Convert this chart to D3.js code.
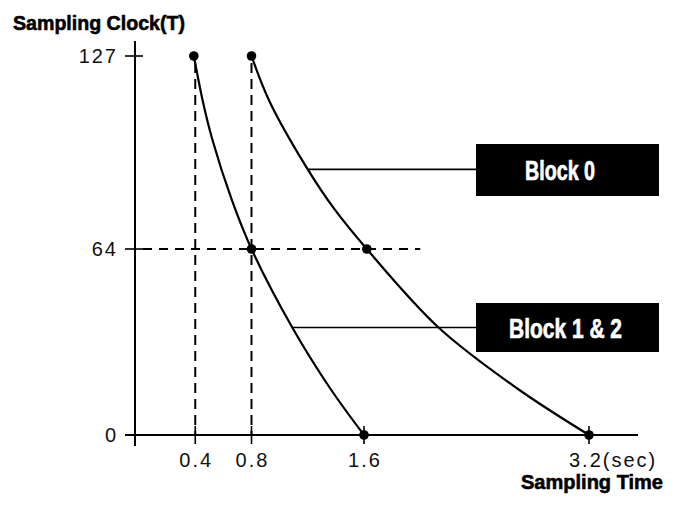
<!DOCTYPE html>
<html>
<head>
<meta charset="utf-8">
<script src="https://cdn.jsdelivr.net/npm/d3@7"></script>
<style>
  html, body { margin: 0; padding: 0; background: #fff; }
  svg { display: block; }
  .tick-label { font-family: "Liberation Sans", Arial, sans-serif; font-size: 20px; letter-spacing: 2px; fill: #111; }
  .bold-title { font-family: "Liberation Sans", Arial, sans-serif; font-weight: bold; font-size: 21px; fill: #000; stroke: #000; stroke-width: 0.6px; }
  .box-label { font-family: "Liberation Sans", Arial, sans-serif; font-weight: bold; font-size: 27px; fill: #fff; stroke: #fff; stroke-width: 0.7px; }
</style>
</head>
<body>
<script>
// ---- data ----
const xTickValues = [0.4, 0.8, 1.6, 3.2];
const xTickLabels = ["0.4", "0.8", "1.6", "3.2(sec)"];
const yTickValues = [0, 64, 127];
const yTickLabels = ["0", "64", "127"];

// Block 1 & 2 curve: sampling clock T vs sampling time (sec)
const block12T    = [127, 112, 100, 80, 64, 37, 16, 0];
const block12Time = [0.39, 0.455, 0.52, 0.66, 0.8, 1.09, 1.36, 1.6];
// Block 0 curve
const block0T     = [127, 112, 90, 77, 64, 37, 16, 0];
const block0Time  = [0.8, 0.93, 1.2, 1.39, 1.62, 2.13, 2.69, 3.2];

const markerTime = [0.39, 0.8, 0.8, 1.62, 1.6, 3.2];
const markerT    = [127, 127, 64, 64, 0, 0];

const dashVertTime = [0.4, 0.8];
const dashHorizT = 64;
const dashHorizEnd = 2.0;

const labels = ["Block 0", "Block 1 & 2"];
const labelAnchorIdx = [2, 5]; // index into each curve where the leader line starts

// ---- drawing ----
const W = 679, H = 505;
const svg = d3.select("body").append("svg").attr("width", W).attr("height", H);

const x = d3.scaleLinear().domain([0, 3.2]).range([139, 589]);
const y = d3.scaleLinear().domain([0, 64, 127]).range([435, 249, 56]);
const axisX = 135;

// dashed guides
const dashG = svg.append("g").attr("stroke", "#000").attr("stroke-width", 2).attr("fill", "none");
dashVertTime.forEach(t => {
  dashG.append("line")
    .attr("x1", x(t)).attr("x2", x(t))
    .attr("y1", y(127) + 7).attr("y2", y(0))
    .attr("stroke-dasharray", "10,6");
});
dashG.append("line")
  .attr("x1", axisX + 8).attr("x2", x(dashHorizEnd))
  .attr("y1", y(dashHorizT)).attr("y2", y(dashHorizT))
  .attr("stroke-dasharray", "9,7");

// axes
const axG = svg.append("g").attr("stroke", "#000").attr("stroke-width", 2);
axG.append("line").attr("x1", axisX).attr("x2", axisX).attr("y1", 41).attr("y2", 446);
axG.append("line").attr("x1", axisX - 10).attr("x2", 638).attr("y1", y(0)).attr("y2", y(0));

// y ticks
yTickValues.forEach((v, i) => {
  svg.append("line").attr("stroke", "#000").attr("stroke-width", 1.6)
    .attr("x1", axisX - 10).attr("x2", axisX + 8)
    .attr("y1", y(v)).attr("y2", y(v));
  svg.append("text").attr("class", "tick-label")
    .attr("x", axisX - 17).attr("y", y(v)).attr("dy", "0.36em")
    .attr("text-anchor", "end").text(yTickLabels[i]);
});

// x ticks
xTickValues.forEach((v, i) => {
  svg.append("line").attr("stroke", "#000").attr("stroke-width", 1.6)
    .attr("x1", x(v)).attr("x2", x(v))
    .attr("y1", y(0) - 9).attr("y2", y(0) + 9);
  const t = svg.append("text").attr("class", "tick-label").attr("y", 467);
  if (i === xTickValues.length - 1) {
    t.attr("x", x(v) - 20).attr("text-anchor", "start").text(xTickLabels[i]);
  } else {
    t.attr("x", x(v) + 1).attr("text-anchor", "middle").text(xTickLabels[i]);
  }
});

// curves
const line = d3.line().x(d => x(d[0])).y(d => y(d[1])).curve(d3.curveCatmullRom.alpha(0.5));
const curves = [
  block0Time.map((t, i) => [t, block0T[i]]),
  block12Time.map((t, i) => [t, block12T[i]])
];
svg.append("g").selectAll("path").data(curves).join("path")
  .attr("d", line).attr("fill", "none").attr("stroke", "#000").attr("stroke-width", 2.2);

// markers
svg.append("g").selectAll("circle").data(markerTime).join("circle")
  .attr("cx", d => x(d)).attr("cy", (d, i) => y(markerT[i]))
  .attr("r", 4.8).attr("fill", "#000");

// labels with leader lines
const boxX = 476, boxW = 183;
const boxY = [144, 303], boxH = [52, 49];
const textX = [525, 509], textW = [70, 113];
labels.forEach((lab, i) => {
  const pt = curves[i][labelAnchorIdx[i]];
  const ly = y(pt[1]);
  svg.append("line").attr("stroke", "#000").attr("stroke-width", 1.6)
    .attr("x1", x(pt[0])).attr("x2", boxX).attr("y1", ly).attr("y2", ly);
  svg.append("rect").attr("x", boxX).attr("y", boxY[i])
    .attr("width", boxW).attr("height", boxH[i]).attr("fill", "#000");
  svg.append("text").attr("class", "box-label")
    .attr("x", textX[i]).attr("y", boxY[i] + boxH[i] / 2 + 10)
    .attr("textLength", textW[i]).attr("lengthAdjust", "spacingAndGlyphs")
    .text(lab);
});

// titles
svg.append("text").attr("class", "bold-title").attr("x", 13).attr("y", 30)
  .attr("textLength", 172).attr("lengthAdjust", "spacingAndGlyphs").text("Sampling Clock(T)");
svg.append("text").attr("class", "bold-title").attr("x", 521).attr("y", 489)
  .attr("textLength", 142).attr("lengthAdjust", "spacingAndGlyphs").text("Sampling Time");
</script>
</body>
</html>
